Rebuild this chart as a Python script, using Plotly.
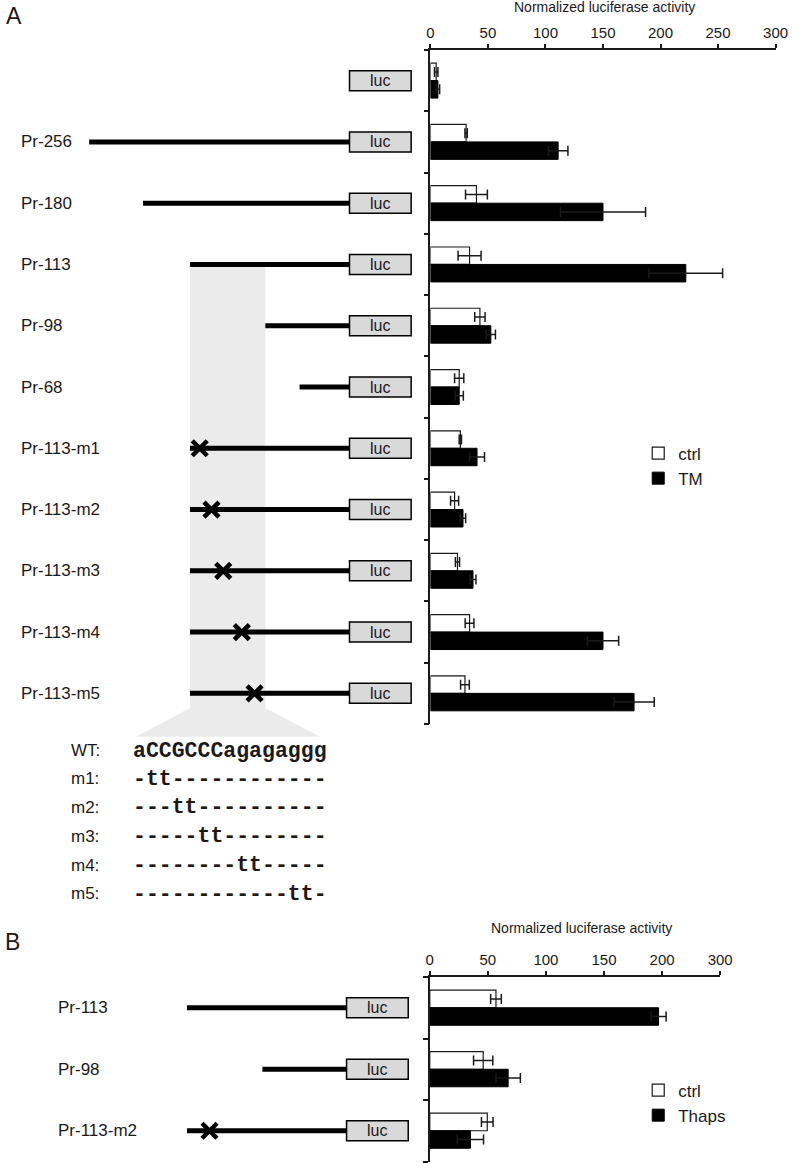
import plotly.graph_objects as go

W, H = 800, 1163
FONT = "Liberation Sans, Arial, sans-serif"
MONO = "Liberation Mono, Courier New, monospace"
INK = "#1a1a1a"

# ---------------- Panel A data ----------------
constructs_a = ["", "Pr-256", "Pr-180", "Pr-113", "Pr-98", "Pr-68",
                "Pr-113-m1", "Pr-113-m2", "Pr-113-m3", "Pr-113-m4", "Pr-113-m5"]
ctrl_a = [5, 31, 40, 34, 43, 25, 26, 21, 23.5, 34, 30]
ctrl_err_a = [1.5, 1, 9.5, 10, 4.5, 4, 1, 3.5, 1.8, 3.8, 3.8]
tm_a = [6.5, 111, 150, 222, 52.5, 25, 40.5, 28.3, 37, 150, 177]
tm_err_a = [1.5, 8.5, 37, 32, 4, 3.6, 6.5, 2.3, 2.6, 13.6, 17.5]
# schematic promoter start of each construct (diagram units, luc box starts at 353)
start_a = [None, 87, 142, 190, 267, 302, 190, 190, 190, 190, 190]
# schematic position of the mutated site (X)
mut_a = [None, None, None, None, None, None, 200, 212, 224, 243, 256]

seq_labels = ["WT:", "m1:", "m2:", "m3:", "m4:", "m5:"]
seqs = ["aCCGCCCagagaggg",
        "-tt------------",
        "---tt----------",
        "-----tt--------",
        "--------tt-----",
        "------------tt-"]

# ---------------- Panel B data ----------------
constructs_b = ["Pr-113", "Pr-98", "Pr-113-m2"]
ctrl_b = [57, 46, 49.5]
ctrl_err_b = [4.6, 8.3, 5]
thaps_b = [197, 67.5, 35]
thaps_err_b = [6.5, 10.5, 11.3]
start_b = [187, 264, 187]
mut_b = [None, None, 210]

tick_vals = [0, 50, 100, 150, 200, 250, 300]
tick_vals_b = [0, 50, 100, 150, 200, 250]
tick_text_b = ["0", "50", "100", "150", "200", "300"]


def px(x):
    return x / W


def py(y):
    return 1 - y / H


fig = go.Figure()

# ---------- diagram A ----------
ROW_PX_A = (724 - 50) / 11.0
yb3 = -0.5 + (920 - 50) / ROW_PX_A
band_top, band_bot, trap_bot = 3.0, 10.24, 10.71
fig.add_trace(go.Scatter(
    x=[start_a[3], start_a[4], start_a[4], 323, 135, start_a[3], start_a[3]],
    y=[band_top, band_top, band_bot, trap_bot, trap_bot, band_bot, band_top],
    fill="toself", fillcolor="#ebebeb", mode="none",
    xaxis="x3", yaxis="y3", showlegend=False, hoverinfo="skip"))

LUC_A = (353, 416)
LUC_B = (350, 413)


def add_diagram(starts, muts, labels, xa, ya, luc, label_x):
    lx, ly = [], []
    for i, s in enumerate(starts):
        if s is not None:
            lx += [s, luc[0], None]
            ly += [i, i, None]
    fig.add_trace(go.Scatter(x=lx, y=ly, mode="lines",
                             line=dict(color="black", width=5),
                             xaxis=xa, yaxis=ya, showlegend=False, hoverinfo="skip"))
    mx = [m for m in muts if m is not None]
    my = [i for i, m in enumerate(muts) if m is not None]
    fig.add_trace(go.Scatter(x=mx, y=my, mode="markers",
                             marker=dict(symbol="x-thin", size=15,
                                         line=dict(color="black", width=4.5)),
                             xaxis=xa, yaxis=ya, showlegend=False, hoverinfo="skip"))
    hh = 10.0 / ROW_PX_A
    for i, lab in enumerate(labels):
        fig.add_shape(type="rect", xref=xa, yref=ya,
                      x0=luc[0], x1=luc[1], y0=i - hh, y1=i + hh,
                      fillcolor="#d9d9d9", line=dict(color="black", width=1.5))
        fig.add_annotation(xref=xa, yref=ya, x=(luc[0] + luc[1]) / 2, y=i,
                           xanchor="center", yanchor="middle",
                           text="luc", showarrow=False,
                           font=dict(family=FONT, size=16, color=INK))
        if lab:
            fig.add_annotation(xref=xa, yref=ya, x=label_x, y=i,
                               xanchor="left", yanchor="middle",
                               text=lab, showarrow=False,
                               font=dict(family=FONT, size=17, color=INK))


add_diagram(start_a, mut_a, constructs_a, "x3", "y3", LUC_A, 15)
add_diagram(start_b, mut_b, constructs_b, "x4", "y4", LUC_B, 53)

# ---------- bars ----------
bar_common = dict(orientation="h", hoverinfo="skip")
err_style = dict(type="data", visible=True, color=INK, thickness=1.5, width=5)

fig.add_trace(go.Bar(y=list(range(len(ctrl_a))), x=ctrl_a, name="ctrl",
                     marker=dict(color="white", line=dict(color=INK, width=1.2)),
                     error_x=dict(array=ctrl_err_a, **err_style),
                     xaxis="x", yaxis="y", legend="legend", **bar_common))
fig.add_trace(go.Bar(y=list(range(len(tm_a))), x=tm_a, name="TM",
                     marker=dict(color="black", line=dict(color="black", width=1)),
                     error_x=dict(array=tm_err_a, **err_style),
                     xaxis="x", yaxis="y", legend="legend", **bar_common))
fig.add_trace(go.Bar(y=list(range(len(ctrl_b))), x=ctrl_b, name="ctrl",
                     marker=dict(color="white", line=dict(color=INK, width=1.2)),
                     error_x=dict(array=ctrl_err_b, **err_style),
                     xaxis="x2", yaxis="y2", legend="legend2", **bar_common))
fig.add_trace(go.Bar(y=list(range(len(thaps_b))), x=thaps_b, name="Thaps",
                     marker=dict(color="black", line=dict(color="black", width=1)),
                     error_x=dict(array=thaps_err_b, **err_style),
                     xaxis="x2", yaxis="y2", legend="legend2", **bar_common))

axis_line = dict(showline=True, linecolor=INK, linewidth=1.5, showgrid=False,
                 zeroline=False, ticks="outside", tickcolor=INK, tickwidth=1.5,
                 fixedrange=True)

fig.update_layout(
    width=W, height=H, margin=dict(l=0, r=0, t=0, b=0),
    paper_bgcolor="white", plot_bgcolor="white",
    barmode="group", bargap=0.43, bargroupgap=0,
    font=dict(family=FONT, color=INK),
    xaxis=dict(domain=[px(435.7), px(788.3)], anchor="y", side="top",
               range=[0, 300], tickvals=tick_vals, ticklen=4,
               tickfont=dict(size=15, family=FONT, color=INK), **axis_line),
    yaxis=dict(domain=[py(724), py(50)], anchor="x", range=[10.5, -0.5],
               tickvals=[i - 0.5 for i in range(12)], ticklen=5,
               showticklabels=False, **axis_line),
    xaxis2=dict(domain=[px(435), px(731.7)], anchor="y2", side="top",
                range=[0, 250], tickvals=tick_vals_b, ticktext=tick_text_b, ticklen=4,
                tickfont=dict(size=15, family=FONT, color=INK), **axis_line),
    yaxis2=dict(domain=[py(1161.5), py(977)], anchor="x2", range=[2.5, -0.5],
                tickvals=[i - 0.5 for i in range(4)], ticklen=5,
                showticklabels=False, **axis_line),
    xaxis3=dict(domain=[0, px(430)], range=[0, 430], anchor="y3", visible=False,
                fixedrange=True),
    yaxis3=dict(domain=[py(920), py(50)], range=[yb3, -0.5], anchor="x3",
                visible=False, fixedrange=True),
    xaxis4=dict(domain=[0, px(430)], range=[0, 430], anchor="y4", visible=False,
                fixedrange=True),
    yaxis4=dict(domain=[py(1161.5), py(977)], range=[2.5, -0.5], anchor="x4",
                visible=False, fixedrange=True),
    legend=dict(x=px(648), xanchor="left", y=py(466), yanchor="middle",
                font=dict(size=17, family=FONT, color=INK),
                bgcolor="rgba(0,0,0,0)", traceorder="normal", tracegroupgap=0),
    legend2=dict(x=px(648), xanchor="left", y=py(1103), yanchor="middle",
                 font=dict(size=17, family=FONT, color=INK),
                 bgcolor="rgba(0,0,0,0)", traceorder="normal", tracegroupgap=0),
)


def note(x, y, text, size, family=FONT, xanchor="left", weight="normal"):
    fig.add_annotation(xref="paper", yref="paper", x=px(x), y=py(y),
                       xanchor=xanchor, yanchor="middle", text=text, showarrow=False,
                       font=dict(size=size, family=family, color=INK, weight=weight))


# titles and panel letters
note(614, 7.5, "Normalized luciferase activity", 14, xanchor="center")
note(590, 928, "Normalized luciferase activity", 14, xanchor="center")
note(0, 16, "A", 23)
note(-1, 942, "B", 23)

# sequences
seq_rows_px = [750.7, 778.7, 807.3, 836, 865, 893.5]
for lab, s, yy in zip(seq_labels, seqs, seq_rows_px):
    note(66, yy, lab, 17)
    note(130, yy, s, 21.5, family=MONO, weight="bold")

fig.write_html("out.html", config={"displayModeBar": False},
               post_script="document.body.style.margin='0px';")
